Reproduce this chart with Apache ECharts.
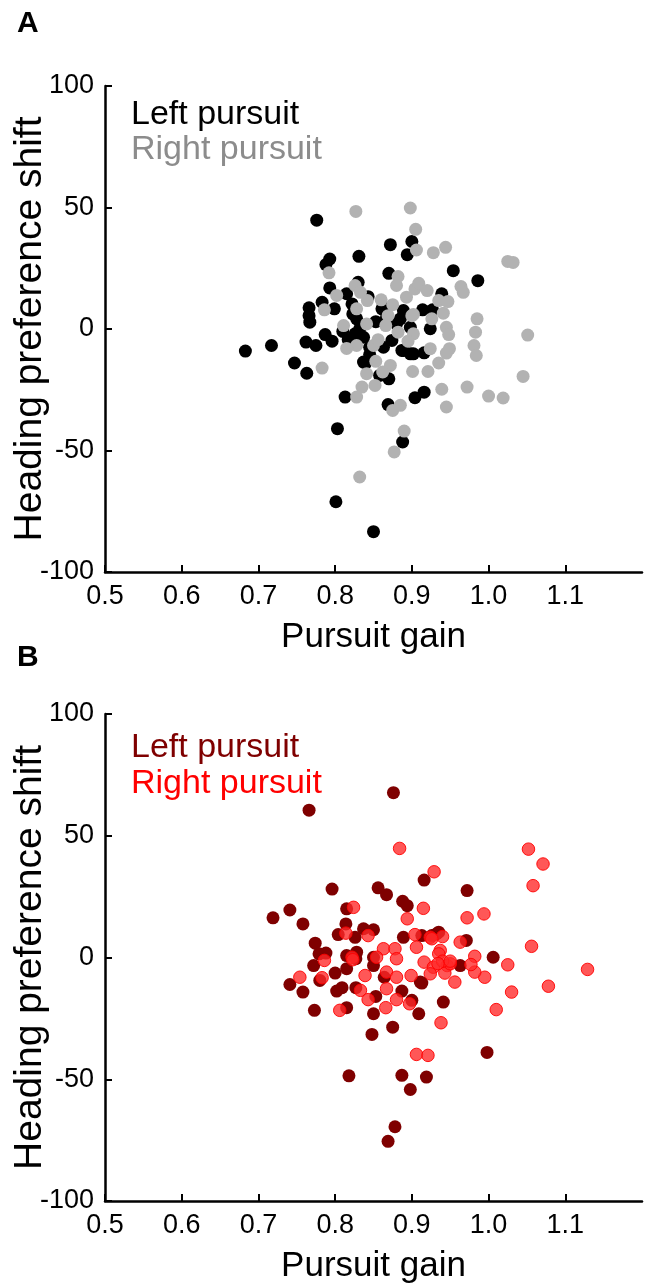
<!DOCTYPE html>
<html>
<head>
<meta charset="utf-8">
<script src="https://cdn.jsdelivr.net/npm/echarts@6/dist/echarts.min.js"></script>
<style>
html,body{margin:0;padding:0;background:#fff;}
#c{width:647px;height:1283px;}
</style>
</head>
<body>
<div id="c"></div>
<script>
// ---- tick labels ----
const xTicks = [0.5, 0.6, 0.7, 0.8, 0.9, 1.0, 1.1];
const yTicks = [-100, -50, 0, 50, 100];
const panelLabels = ['A', 'B'];
const seriesNames = ['Left pursuit', 'Right pursuit'];
const xName = 'Pursuit gain';
const yName = 'Heading preference shift';

// ---- Panel A: [pursuit gain, heading preference shift] ----
const leftA = [
[0.776,44.8],[0.831,29.9],[0.793,28.8],[0.788,26.5],[0.872,34.7],[0.900,36.0],[0.894,30.6],[0.830,19.2],
[0.870,22.9],[0.793,16.9],[0.783,11.0],[0.766,8.7],[0.766,5.5],[0.767,2.8],[0.799,8.3],[0.815,14.5],
[0.843,13.3],[0.683,-9.1],[0.717,-6.8],[0.747,-14.0],[0.763,-18.2],[0.762,-5.4],[0.775,-6.8],[0.787,-2.3],
[0.796,-5.0],[0.837,-13.6],[0.861,8.3],[0.874,-4.7],[0.889,-8.8],[0.898,-10.2],[0.858,-19.1],[0.813,-28.0],
[0.803,-41.0],[0.801,-71.1],[0.850,-83.4],[0.888,-46.5],[0.904,-28.3],[0.869,-31.1],[0.954,24.0],[0.986,19.9],
[0.939,14.5],[0.914,7.9],[0.927,7.9],[0.885,4.2],[0.924,0.1],[0.887,-8.8],[0.902,-10.2],[0.916,-9.8],
[0.916,-26.0],[0.822,10.3],[0.823,6.2],[0.828,4.2],[0.832,0.1],[0.826,-2.0],[0.837,-3.4],[0.817,-4.4],
[0.845,-7.5],[0.863,9.0],[0.867,4.8],[0.880,2.1],[0.889,7.6],[0.898,0.7],[0.863,-7.5],[0.840,-14.0],
[0.810,-1.0],[0.853,3.0],[0.845,-10.5],[0.870,-20.5]
];
const rightA = [
[0.827,48.4],[0.898,49.8],[0.905,41.0],[0.906,32.5],[0.792,23.1],[0.882,21.6],[0.880,17.9],[0.826,17.9],
[0.833,15.1],[0.802,13.8],[0.842,11.7],[0.828,8.3],[0.786,7.9],[0.893,13.1],[0.904,16.5],[0.811,1.4],
[0.841,2.1],[0.869,5.5],[0.866,1.4],[0.882,-1.3],[0.900,5.5],[0.902,-2.0],[0.828,-6.8],[0.850,-6.8],
[0.856,-4.4],[0.783,-16.1],[0.853,-13.3],[0.872,-15.0],[0.862,-17.7],[0.841,-18.4],[0.901,-17.5],[0.835,-23.9],
[0.852,-23.2],[0.832,-60.9],[0.877,-50.6],[0.890,-42.0],[0.875,-33.5],[0.885,-31.4],[0.828,-28.0],
[0.928,31.4],[0.944,33.6],[1.025,27.8],[1.032,27.4],[0.964,17.5],[0.967,15.1],[0.909,18.8],[0.920,15.8],
[0.935,11.7],[0.947,11.3],[0.941,6.5],[0.985,4.2],[0.983,-1.3],[1.051,-2.5],[0.981,-6.8],[0.984,-10.9],
[0.945,0.7],[0.948,-2.3],[0.949,-8.1],[0.945,-9.9],[0.926,4.2],[0.902,6.0],[0.924,-8.1],[0.935,-14.0],
[0.921,-17.5],[1.045,-19.5],[0.972,-23.9],[1.000,-27.6],[1.019,-28.4],[0.939,-24.8],[0.945,-32.1],
[0.815,-8.0],[0.860,12.0],[0.875,10.0],[0.895,-5.0]
];

// ---- Panel B ----
const leftB = [
[0.876,67.7],[0.766,60.5],[0.796,28.1],[0.856,28.6],[0.867,25.8],[0.916,31.8],[0.888,23.1],[0.894,21.3],
[0.741,19.5],[0.719,16.3],[0.758,13.8],[0.815,20.0],[0.814,13.8],[0.804,9.4],[0.774,5.9],[0.837,11.8],
[0.850,11.4],[0.826,8.3],[0.779,1.5],[0.788,1.8],[0.772,-3.3],[0.815,0.8],[0.828,2.2],[0.850,0.1],
[0.889,8.3],[0.913,9.0],[0.932,9.7],[0.741,-11.1],[0.758,-14.2],[0.773,-21.7],[0.800,-6.4],[0.815,-4.6],
[0.780,-9.4],[0.802,-13.8],[0.809,-12.4],[0.827,-12.4],[0.815,-20.6],[0.827,-0.5],[0.850,-3.3],[0.853,-16.0],
[0.850,-23.1],[0.875,-28.6],[0.848,-31.6],[0.864,-8.1],[0.887,-13.8],[0.900,-17.6],[0.909,-23.1],[0.911,-10.1],
[0.941,-18.3],[0.818,-48.6],[0.887,-48.4],[0.919,-49.1],[0.898,-54.2],[0.878,-69.5],[0.869,-75.5],[0.998,-39.0],
[0.972,27.5],[0.971,7.0],[1.006,0.1],[0.963,-3.3],[0.913,-10.5],[0.935,10.4],[0.926,9.0]
];
const rightB = [
[0.884,44.8],[0.929,35.2],[0.824,20.6],[0.915,20.2],[0.894,15.9],[0.843,9.0],[0.814,10.0],[0.904,9.4],
[0.863,3.6],[0.878,3.6],[0.786,-1.2],[0.822,0.1],[0.854,0.1],[0.880,-0.5],[0.906,4.2],[0.937,2.9],
[0.754,-8.1],[0.783,-8.3],[0.806,-21.7],[0.823,-0.9],[0.839,-7.4],[0.833,-13.5],[0.843,-17.3],[0.867,-6.0],
[0.880,-8.1],[0.867,-12.8],[0.880,-17.3],[0.866,-20.6],[0.897,-19.0],[0.899,-7.4],[0.916,-1.9],[0.924,8.3],
[0.928,-4.0],[0.935,1.5],[0.946,-3.3],[0.938,-26.8],[0.906,-39.8],[0.921,-40.2],
[1.052,44.5],[1.071,38.4],[1.058,29.5],[0.972,16.3],[0.994,17.9],[1.056,4.6],[1.129,-4.9],[1.025,-3.0],
[1.078,-11.8],[1.030,-14.2],[1.010,-21.4],[0.982,0.5],[0.995,-8.1],[0.982,-6.0],[0.977,-2.9],[0.956,-10.1],
[0.963,6.3],[0.940,8.6],[0.926,7.7],[0.943,-6.4],[0.924,-6.7],[0.950,-2.6],[0.940,-1.5],[0.934,-2.5],[0.950,-1.5]
];

const FONT = "'Liberation Sans', Arial, sans-serif";
const chart = echarts.init(document.getElementById('c'), null, {renderer: 'canvas'});

const grids = [
  {left: 105, top: 86, width: 537, height: 486, containLabel: false, outerBoundsMode: 'none'},
  {left: 105, top: 714, width: 537, height: 487, containLabel: false, outerBoundsMode: 'none'}
];

function xAxisFor(i) {
  return {
    type: 'value', gridIndex: i, min: 0.5, max: 1.2, interval: 0.1,
    name: xName, nameLocation: 'middle', nameGap: 48, nameMoveOverlap: false,
    nameTextStyle: {fontFamily: FONT, fontSize: 35, color: '#000'},
    axisLine: {show: true, onZero: false, lineStyle: {color: '#000', width: 2.5}},
    axisTick: {show: true, inside: true, length: 7, customValues: xTicks, lineStyle: {color: '#000', width: 2}},
    axisLabel: {show: true, customValues: xTicks, margin: 11, fontFamily: FONT, fontSize: 27, color: '#000',
      formatter: v => Number(v).toFixed(1)},
    splitLine: {show: false}
  };
}
function yAxisFor(i) {
  return {
    type: 'value', gridIndex: i, min: -100, max: 100, interval: 50,
    name: yName, nameLocation: 'middle', nameGap: 55, nameRotate: 90, nameMoveOverlap: false,
    nameTextStyle: {fontFamily: FONT, fontSize: 39, color: '#000'},
    axisLine: {show: true, onZero: false, lineStyle: {color: '#000', width: 2.5}},
    axisTick: {show: true, inside: true, length: 7, customValues: yTicks, lineStyle: {color: '#000', width: 2}},
    axisLabel: {show: true, customValues: yTicks, margin: 11, fontFamily: FONT, fontSize: 27, color: '#000',
      formatter: v => String(v)},
    splitLine: {show: false}
  };
}

function txt(x, y, text, color, size, weight) {
  return {type: 'text', x: x, y: y, style: {text: text, fill: color, font: (weight || 'normal') + ' ' + size + 'px ' + FONT, textVerticalAlign: 'top'}};
}

chart.setOption({
  animation: false,
  backgroundColor: '#fff',
  grid: grids,
  xAxis: [xAxisFor(0), xAxisFor(1)],
  yAxis: [yAxisFor(0), yAxisFor(1)],
  series: [
    {name: seriesNames[0], type: 'scatter', xAxisIndex: 0, yAxisIndex: 0, data: leftA, symbolSize: 13,
     itemStyle: {color: '#000000', opacity: 1}},
    {name: seriesNames[1], type: 'scatter', xAxisIndex: 0, yAxisIndex: 0, data: rightA, symbolSize: 13,
     itemStyle: {color: '#b2b2b2', opacity: 1}},
    {name: seriesNames[0], type: 'scatter', xAxisIndex: 1, yAxisIndex: 1, data: leftB, symbolSize: 13,
     itemStyle: {color: '#7f0000', opacity: 1}},
    {name: seriesNames[1], type: 'scatter', xAxisIndex: 1, yAxisIndex: 1, data: rightB, symbolSize: 12.5,
     itemStyle: {color: 'rgba(255,40,40,0.78)', borderColor: 'rgba(255,0,0,0.9)', borderWidth: 1, opacity: 1}}
  ],
  graphic: [
    txt(17, 9, panelLabels[0], '#000', 30, 'bold'),
    txt(17, 643, panelLabels[1], '#000', 30, 'bold'),
    txt(131, 98, seriesNames[0], '#000000', 34),
    txt(131, 133, seriesNames[1], '#8c8c8c', 34),
    txt(131, 731, seriesNames[0], '#7f0000', 34),
    txt(131, 767, seriesNames[1], '#ff0000', 34)
  ]
});
</script>
</body>
</html>
